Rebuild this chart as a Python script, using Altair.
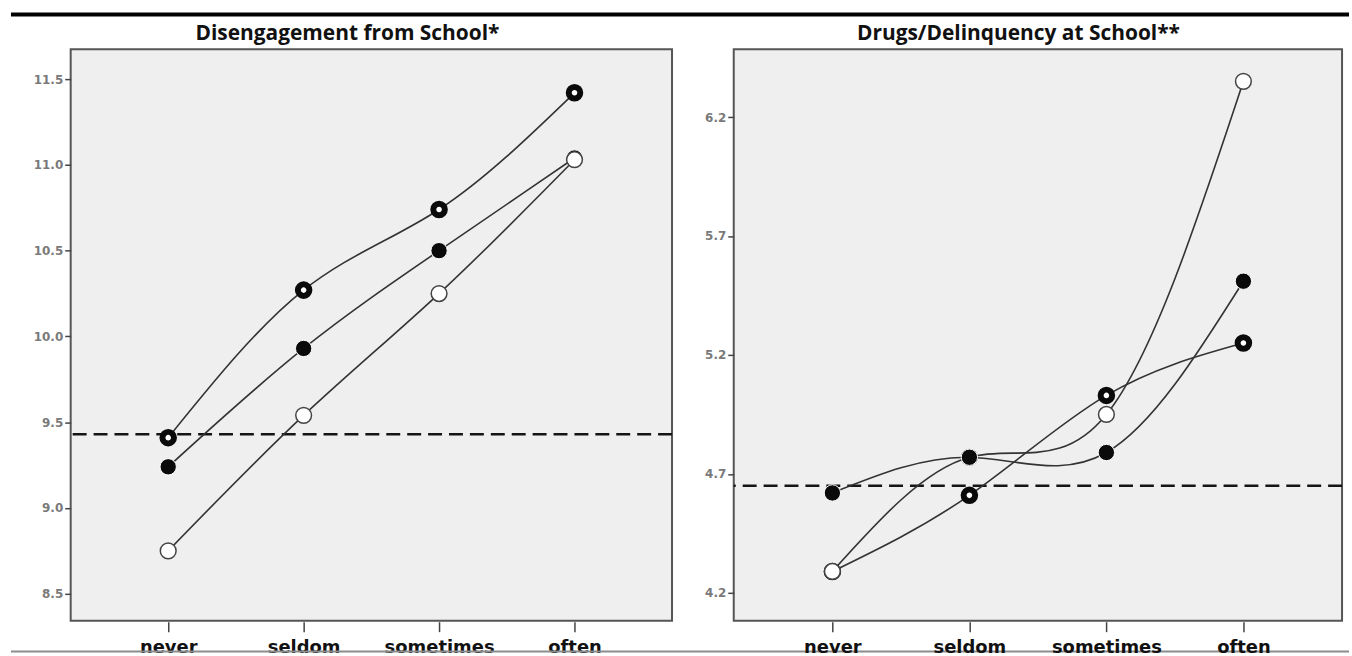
import altair as alt
import pandas as pd

cats = ["never", "seldom", "sometimes", "often"]

# Disengagement from School*
left_ring = [9.41, 10.27, 10.74, 11.42]
left_filled = [9.24, 9.93, 10.50, 11.04]
left_open = [8.75, 9.54, 10.25, 11.03]
left_ref = 9.43
left_ticks = [8.5, 9.0, 9.5, 10.0, 10.5, 11.0, 11.5]
left_domain = [8.343, 11.674]

# Drugs/Delinquency at School**
right_ring = [4.29, 4.61, 5.03, 5.25]
right_filled = [4.62, 4.77, 4.79, 5.51]
right_open = [4.29, 4.77, 4.95, 6.35]
right_ref = 4.65
right_ticks = [4.2, 4.7, 5.2, 5.7, 6.2]
right_domain = [4.083, 6.485]

TITLE_FONT = "Open Sans"
LABEL_FONT = "DejaVu Sans"


def panel(title, title_x, ring, filled, openv, ref, domain, ticks, width, point_order, frame=False):
    df = pd.DataFrame({
        "cat": cats * 3,
        "value": ring + filled + openv,
        "series": ["ring"] * 4 + ["filled"] * 4 + ["open"] * 4,
    })
    x = alt.X("cat:N", sort=cats,
              scale=alt.Scale(type="point", padding=0.72),
              axis=alt.Axis(title=None, labelAngle=0, domain=False, grid=False,
                            tickSize=10, tickWidth=1.5, tickColor="#444",
                            offset=1, labelPadding=7,
                            labelFont=LABEL_FONT, labelFontSize=18,
                            labelFontWeight="bold", labelColor="#111"))
    y = alt.Y("value:Q",
              scale=alt.Scale(domain=domain, nice=False, zero=False),
              axis=alt.Axis(title=None, values=ticks, format=".1f", domain=False,
                            grid=False, tickSize=6, tickWidth=1.5, tickColor="#444",
                            labelPadding=2, labelFont=LABEL_FONT, labelFontSize=12,
                            labelFontWeight="bold", labelColor="#7a7a7a"))
    base = alt.Chart(df)
    lines = base.mark_line(interpolate="natural", color="#333",
                           strokeWidth=1.6).encode(x=x, y=y, detail="series:N")
    rule = alt.Chart(pd.DataFrame({"ref": [ref]})).mark_rule(
        strokeDash=[14, 7], strokeWidth=2.6, color="#151515").encode(y=alt.Y("ref:Q"))

    styles = {
        "ring": dict(fill="white", stroke="#0a0a0a", strokeWidth=6, size=135),
        "filled": dict(fill="#0a0a0a", stroke="white", strokeWidth=1, size=270),
        "open": dict(fill="white", stroke="#444", strokeWidth=1.5, size=250),
    }
    pts = []
    for s in point_order:
        st = styles[s]
        pts.append(base.transform_filter(alt.datum.series == s).mark_point(
            shape="circle", filled=True, opacity=1, **st).encode(x=x, y=y))

    title_mark = alt.Chart(pd.DataFrame({"t": [title]})).mark_text(
        font=TITLE_FONT, fontSize=21, fontWeight="bold", color="#111",
        align="center", baseline="alphabetic").encode(
        text="t:N", x=alt.value(title_x), y=alt.value(-9))

    layers = [rule, lines] + pts + [title_mark]
    if frame:
        frame_df = pd.DataFrame({"k": [0]})
        top_line = alt.Chart(frame_df).mark_rule(color="#000", strokeWidth=4).encode(
            x=alt.value(-60), x2=alt.value(1284), y=alt.value(-35))
        bottom_line = alt.Chart(frame_df).mark_rule(color="#8c8c8c", strokeWidth=2).encode(
            x=alt.value(-60), x2=alt.value(1284), y=alt.value(605))
        layers += [top_line, bottom_line]

    return alt.layer(*layers).properties(width=width, height=574)


left = panel("Disengagement from School*", 278, left_ring, left_filled, left_open, left_ref,
             left_domain, left_ticks, 604, ["ring", "filled", "open"], frame=True)
right = panel("Drugs/Delinquency at School**", 286, right_ring, right_filled, right_open, right_ref,
              right_domain, right_ticks, 611, ["ring", "open", "filled"])

chart = alt.hconcat(left, right, spacing=62, bounds="flush").properties(
    padding={"left": 8, "top": 10, "right": 0, "bottom": 0},
    background="white",
).configure_view(fill="#efefef", stroke="#555", strokeWidth=2)

chart.save("out.html", embed_options={"renderer": "svg", "actions": False})
